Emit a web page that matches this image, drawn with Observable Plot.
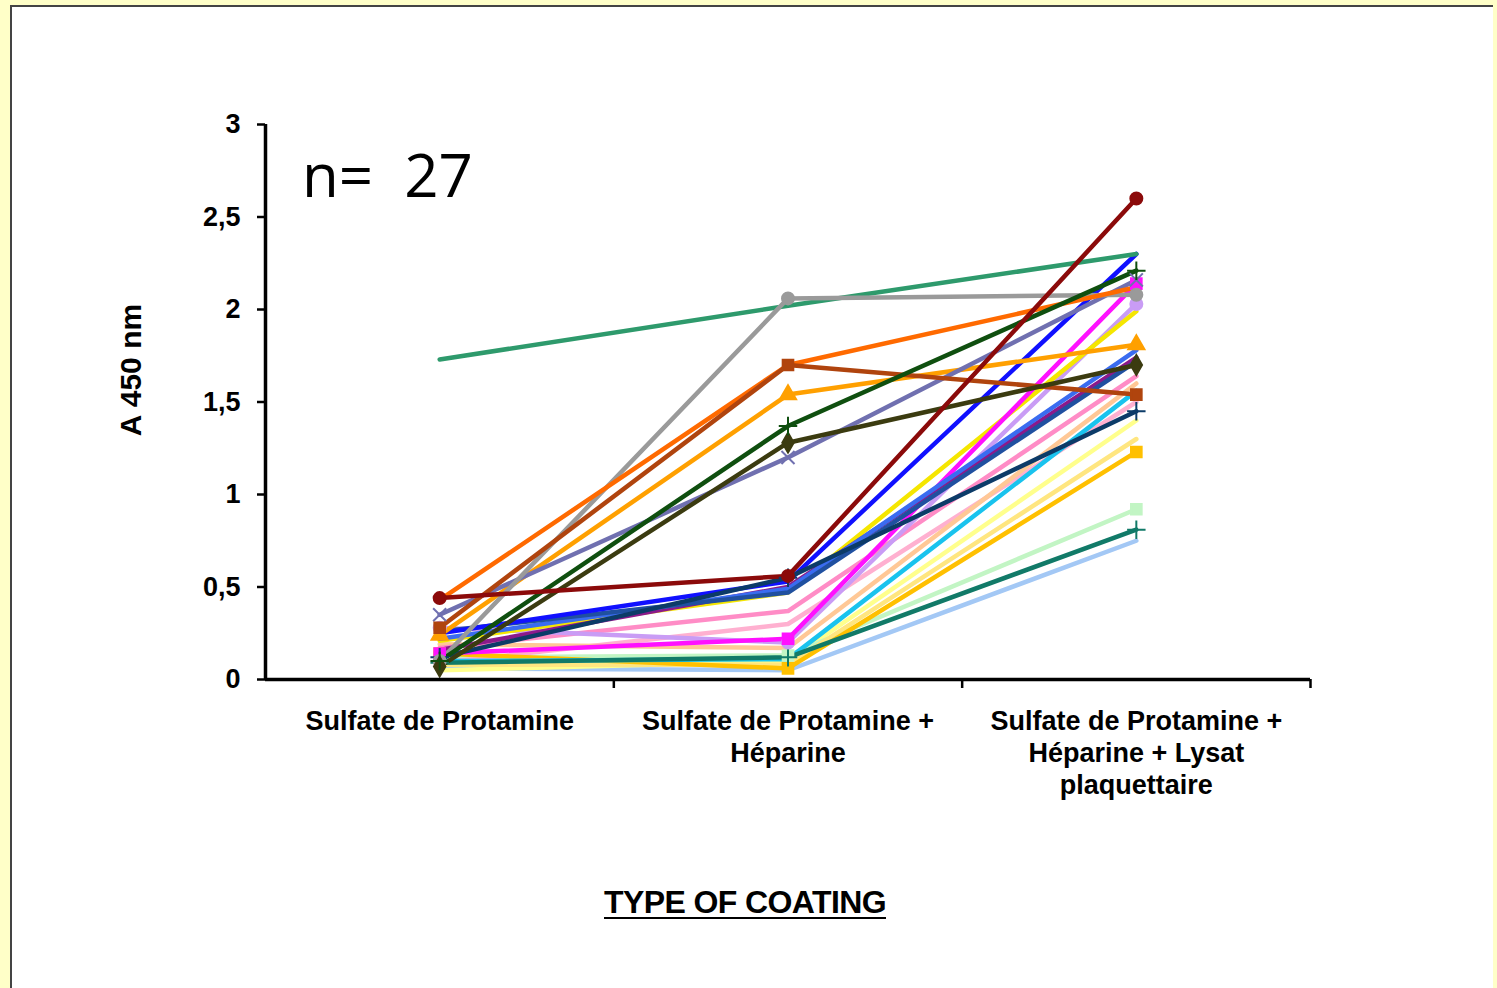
<!DOCTYPE html>
<html>
<head>
<meta charset="utf-8">
<script src="https://cdn.jsdelivr.net/npm/d3@7"></script>
<script src="https://cdn.jsdelivr.net/npm/@observablehq/plot@0.6"></script>
<style>
  html, body { margin: 0; padding: 0; width: 1497px; height: 988px; overflow: hidden; background: #ffffc8; }
  #panel { position: absolute; left: 10px; top: 5px; width: 1483px; height: 990px; background: #ffffff; border-left: 2px solid #444; border-top: 2px solid #444; box-sizing: border-box; }
  #chart { position: absolute; left: 0; top: 0; }
  .lbl { position: absolute; font-family: "Liberation Sans", Arial, sans-serif; font-weight: bold; color: #000; white-space: nowrap; }
</style>
</head>
<body>
<div id="panel"></div>
<div id="chart"></div>
<div class="lbl" id="ylab" style="left:131px; top:370px; font-size:30px; transform: translate(-50%,-50%) rotate(-90deg);">A 450 nm</div>
<div class="lbl" style="left:302px; top:133px; font-family:'Open Sans', sans-serif; font-weight:normal; font-size:60px;">n=&nbsp;&nbsp;27</div>
<div class="lbl" style="left:745px; top:884px; font-size:32px; letter-spacing:-0.6px; text-decoration: underline; text-decoration-thickness: 2px; text-underline-offset: 4px; transform: translateX(-50%);">TYPE OF COATING</div>
<script>
// Categories (x axis)
const categories = [
  "Sulfate de Protamine",
  "Sulfate de Protamine +\nHéparine",
  "Sulfate de Protamine +\nHéparine + Lysat\nplaquettaire"
];
// Series names (27 patients), in drawing order
const seriesNames = ["P24","P20","P22","P26","P25","P18","P21","P19","P23","P15","P16","P17","P14","P13","P12","P27","P10","P11","P6","P9","P1","P3","P4","P5","P8","P7","P2"];
// A 450 nm values per coating
const valuesProtamine  = [0.06,0.05,0.12,0.08,0.09,0.19,0.14,0.10,0.09,0.17,0.28,0.21,0.14,0.16,0.22,0.26,0.25,0.12,0.24,0.35,1.73,0.10,0.43,0.28,0.07,0.10,0.44];
const valuesHeparine   = [0.05,0.10,0.13,0.08,0.30,0.17,0.06,0.11,0.12,0.37,0.20,0.47,0.22,0.50,0.49,0.47,0.53,0.55,1.54,1.20,2.02,2.06,1.70,1.70,1.28,1.37,0.56];
const valuesLysat      = [0.75,1.40,0.92,1.30,1.50,1.60,1.23,1.56,0.81,1.64,2.03,1.99,2.14,1.74,1.78,1.72,2.30,1.45,1.81,2.16,2.30,2.08,2.12,1.54,1.70,2.21,2.60];
// y tick values
const yTicks = [0, 0.5, 1, 1.5, 2, 2.5, 3];

// Styles (kept separate from data)
const seriesColors = ["#a3c8f5","#ffff8c","#c2f5c4","#ffe680","#ffb0d0","#ffc896","#ffc000","#19c3ee","#117a68","#ff8cc6","#c99cf5","#f5e600","#ff10ff","#8b1a8b","#3a6cf0","#2050a0","#1010ff","#0c3b68","#ffa000","#7070b0","#2e9a6c","#9a9a9a","#ff6a00","#b0440e","#3b3b10","#0f4f0f","#8b0a0a"];
const seriesMarkers = [null,null,"square",null,null,null,"square",null,"plus",null,"circle",null,"square",null,null,null,null,"plus","triangle","times",null,"circle",null,"square","diamond","plus","circle"];

const valueSets = [valuesProtamine, valuesHeparine, valuesLysat];
const rows = [];
seriesNames.forEach((s, i) => {
  valueSets.forEach((vals, j) => {
    rows.push({series: s, pos: j + 0.5, value: vals[i], marker: seriesMarkers[i]});
  });
});
const markerRows = rows.filter(d => d.marker);
const markerSeries = seriesNames.filter((s, i) => seriesMarkers[i]);
const markerSymbols = seriesMarkers.filter(m => m);

const fmt = d => String(d).replace(".", ",");

const chart = Plot.plot({
  width: 1497,
  height: 988,
  marginLeft: 265,
  marginRight: 187,
  marginTop: 124,
  marginBottom: 309,
  style: {background: "transparent", fontFamily: "'Liberation Sans', Arial, sans-serif", fontWeight: "bold", color: "#000"},
  x: {domain: [0, 3]},
  y: {domain: [0, 3]},
  color: {domain: seriesNames, range: seriesColors},
  symbol: {domain: markerSeries, range: markerSymbols},
  marks: [
    Plot.line(rows, {x: "pos", y: "value", z: "series", stroke: "series", strokeWidth: 4.5}),
    Plot.dot(markerRows, {x: "pos", y: "value", fill: "series", stroke: "series", symbol: "series", r: 6, strokeWidth: 2}),
    Plot.axisY({ticks: yTicks, tickFormat: fmt, tickSize: 8, tickPadding: 17, fontSize: 27, strokeWidth: 2.5, label: null}),
    Plot.axisX({ticks: [1, 2, 3], tickSize: 9, tickFormat: () => "", strokeWidth: 2.5, label: null}),
    Plot.axisX({ticks: [0.5, 1.5, 2.5], tickSize: 0, tickPadding: 27, tickFormat: d => categories[Math.round(d - 0.5)], fontSize: 27, lineHeight: 1.2, label: null}),
    Plot.ruleX([0], {strokeWidth: 3.5}),
    Plot.ruleY([0], {strokeWidth: 3.5})
  ]
});
document.getElementById("chart").appendChild(chart);
</script>
</body>
</html>
